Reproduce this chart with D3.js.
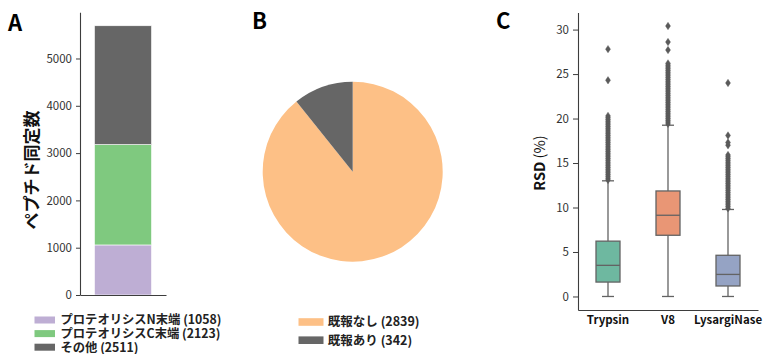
<!DOCTYPE html>
<html><head><meta charset="utf-8">
<script src="https://cdn.jsdelivr.net/npm/d3@7"></script>
<style>
body{margin:0;background:#fff;}
svg{display:block;font-family:"Noto Sans CJK JP","Noto Sans",sans-serif;}
</style></head>
<body><svg id="c" width="765" height="354"></svg>
<script>
// ---- Panel A data ----
const barCategories = ["プロテオリシスN末端", "プロテオリシスC末端", "その他"];
const barValues = [1058, 2123, 2511];
const barColors = ["#beaed4", "#7fc97f", "#666666"];
const barTicks = [0, 1000, 2000, 3000, 4000, 5000];

// ---- Panel B data ----
const pieCategories = ["既報なし", "既報あり"];
const pieValues = [2839, 342];
const pieColors = ["#fdc086", "#666666"];

// ---- Panel C data ----
const boxCategories = ["Trypsin", "V8", "LysargiNase"];
const boxMin = [0, 0, 0];
const boxQ1 = [1.62, 6.88, 1.18];
const boxMedian = [3.5, 9.13, 2.48];
const boxQ3 = [6.22, 11.86, 4.63];
const boxMax = [13.0, 19.25, 9.78];
const boxColors = ["#6eb8a0", "#e99675", "#95a3c4"];
const outTrypsin = [13.1,13.3,13.5,13.7,13.9,14.1,14.3,14.5,14.7,14.9,15.1,15.3,15.5,15.7,15.9,16.1,16.3,16.5,16.7,16.9,17.1,17.3,17.5,17.7,17.9,18.1,18.3,18.5,18.7,18.9,19.1,19.3,19.5,19.7,19.9,20.1,20.3,24.3,27.8];
const outV8 = [19.4,19.6,19.8,20.0,20.2,20.4,20.6,20.8,21.0,21.2,21.4,21.6,21.8,22.0,22.2,22.4,22.6,22.8,23.0,23.2,23.4,23.6,23.8,24.0,24.2,24.4,24.6,24.8,25.0,25.2,25.4,25.6,25.8,26.0,26.2,27.7,28.6,30.4];
const outLysar = [9.9,10.1,10.3,10.5,10.7,10.9,11.1,11.3,11.5,11.7,11.9,12.1,12.3,12.5,12.7,12.9,13.1,13.3,13.5,13.7,13.9,14.1,14.3,14.5,14.7,14.9,15.1,15.3,15.5,15.7,15.9,17.0,17.3,18.1,24.0];
const boxOutliers = [outTrypsin, outV8, outLysar];
const boxTicks = [0, 5, 10, 15, 20, 25, 30];

const svg = d3.select("#c");
const axisColor = "#3d3d3d", textColor = "#333";

function styleAxis(g){
  g.selectAll("path.domain").attr("stroke", axisColor).attr("stroke-width", 1.1);
  g.selectAll(".tick line").attr("stroke", axisColor).attr("stroke-width", 1);
  g.selectAll(".tick text").attr("fill", textColor).style("font-family", '"Noto Sans CJK JP","Noto Sans",sans-serif');
}

// panel labels
[["A", 8, 31], ["B", 252, 29], ["C", 496, 29]].forEach(([t, x, y]) => {
  svg.append("text").attr("x", x).attr("y", y).attr("font-size", 22).attr("font-weight", 700).attr("fill", "#000").text(t);
});

// ===== Panel A =====
const totalA = d3.sum(barValues);
const yA = d3.scaleLinear().domain([0, totalA * 1.05]).range([295, 12.3]);
const xA = d3.scaleBand().domain(["all"]).range([80, 166]).paddingInner(0).paddingOuter(0.254);
const gA = svg.append("g");
let acc = 0;
const stackA = barValues.map((v, i) => { const s = {y0: acc, y1: acc + v, c: barColors[i]}; acc += v; return s; });
gA.selectAll("rect.seg").data(stackA).join("rect").attr("class", "seg")
  .attr("x", xA("all")).attr("width", xA.bandwidth())
  .attr("y", d => yA(d.y1)).attr("height", d => yA(d.y0) - yA(d.y1))
  .attr("fill", d => d.c).attr("stroke", "#fff").attr("stroke-width", 0.6);
const axA = gA.append("g").attr("transform", "translate(80,0)")
  .call(d3.axisLeft(yA).tickValues(barTicks).tickFormat(d3.format("d")).tickSize(4).tickSizeOuter(0).tickPadding(4));
axA.selectAll("text").attr("font-size", 11.5);
styleAxis(axA);
const axAx = gA.append("g").attr("transform", "translate(0,295)")
  .call(d3.axisBottom(xA).tickSize(0).tickSizeOuter(0).tickFormat(""));
styleAxis(axAx);
gA.append("text").attr("transform", "translate(37.5,170) rotate(-90)").attr("text-anchor", "middle")
  .attr("font-size", 17).attr("font-weight", 700).attr("fill", "#111").text("ペプチド同定数");
// legend A
barCategories.forEach((c, i) => {
  const cy = 320 + i * 13.6;
  gA.append("rect").attr("x", 34.5).attr("y", cy - 3.5).attr("width", 20.5).attr("height", 7).attr("fill", barColors[i]);
  gA.append("text").attr("x", 60.5).attr("y", cy + 4.3).attr("font-size", 12.3).attr("font-weight", 700).attr("fill", "#222")
    .text(c + " (" + barValues[i] + ")");
});

// ===== Panel B =====
const gB = svg.append("g").attr("transform", "translate(352.7,171.7)");
const pie = d3.pie().sort(null).value(d => d)(pieValues);
const arc = d3.arc().innerRadius(0).outerRadius(90);
gB.selectAll("path").data(pie).join("path").attr("d", arc).attr("fill", (d, i) => pieColors[i]);
pieCategories.forEach((c, i) => {
  const cy = 322 + i * 18.2;
  svg.append("rect").attr("x", 298.5).attr("y", cy - 3.8).attr("width", 25).attr("height", 7.6).attr("fill", pieColors[i]);
  svg.append("text").attr("x", 327.8).attr("y", cy + 4.4).attr("font-size", 12.5).attr("font-weight", 700).attr("fill", "#222")
    .text(c + " (" + pieValues[i] + ")");
});

// ===== Panel C =====
const allVals = boxOutliers.flat().concat(boxMin, boxMax);
const cMax = d3.max(allVals), cMin = d3.min(allVals);
const pad = (cMax - cMin) * 0.05;
const yC = d3.scaleLinear().domain([cMin - pad, cMax + pad]).range([310, 12.5]);
const xC = d3.scaleBand().domain(boxCategories).range([578, 758]).padding(0);
const gC = svg.append("g");
const lineColor = "#636363";
const bw = xC.bandwidth() * 0.4;
boxCategories.forEach((c, i) => {
  const cx = xC(c) + xC.bandwidth() / 2;
  gC.append("line").attr("x1", cx).attr("x2", cx).attr("y1", yC(boxQ3[i])).attr("y2", yC(boxMax[i])).attr("stroke", lineColor).attr("stroke-width", 1.3);
  gC.append("line").attr("x1", cx).attr("x2", cx).attr("y1", yC(boxQ1[i])).attr("y2", yC(boxMin[i])).attr("stroke", lineColor).attr("stroke-width", 1.3);
  [boxMax[i], boxMin[i]].forEach(v => {
    gC.append("line").attr("x1", cx - bw / 4).attr("x2", cx + bw / 4).attr("y1", yC(v)).attr("y2", yC(v)).attr("stroke", lineColor).attr("stroke-width", 1.3);
  });
  gC.append("rect").attr("x", cx - bw / 2).attr("width", bw).attr("y", yC(boxQ3[i])).attr("height", yC(boxQ1[i]) - yC(boxQ3[i]))
    .attr("fill", boxColors[i]).attr("stroke", lineColor).attr("stroke-width", 1.3);
  gC.append("line").attr("x1", cx - bw / 2).attr("x2", cx + bw / 2).attr("y1", yC(boxMedian[i])).attr("y2", yC(boxMedian[i])).attr("stroke", lineColor).attr("stroke-width", 1.3);
  gC.selectAll("path.o" + i).data(boxOutliers[i]).join("path").attr("class", "o" + i)
    .attr("d", "M0,-3.7L2.5,0L0,3.7L-2.5,0Z")
    .attr("transform", v => `translate(${cx},${yC(v)})`)
    .attr("fill", "#5a5a5a").attr("stroke", "#5a5a5a").attr("stroke-width", 0.4);
});
const axC = gC.append("g").attr("transform", "translate(578,0)")
  .call(d3.axisLeft(yC).tickValues(boxTicks).tickSize(5).tickSizeOuter(0).tickPadding(4));
axC.selectAll("text").attr("font-size", 11.5);
styleAxis(axC);
const axCx = gC.append("g").attr("transform", "translate(0,310)")
  .call(d3.axisBottom(xC).tickSize(0).tickSizeOuter(0).tickPadding(6));
axCx.selectAll("text").attr("font-size", 11.5).attr("font-weight", 700);
styleAxis(axCx);
axCx.selectAll(".tick text").attr("fill", "#111");
const yl = gC.append("text").attr("transform", "translate(544.5,163) rotate(-90)").attr("text-anchor", "middle")
  .attr("font-size", 14.5).attr("fill", "#111");
yl.append("tspan").attr("font-weight", 700).text("RSD ");
yl.append("tspan").attr("font-weight", 400).text("(%)");
</script></body></html>
